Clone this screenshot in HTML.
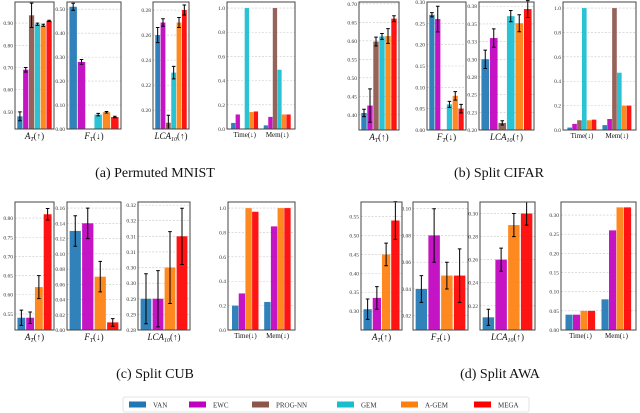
<!DOCTYPE html>
<html><head><meta charset="utf-8"><style>
html,body{margin:0;padding:0;background:#fff;}
svg{display:block;font-family:"Liberation Serif",serif;}
</style></head><body>
<svg id="fig" width="640" height="413" viewBox="0 0 640 413" xmlns="http://www.w3.org/2000/svg"></svg>
<script>
const methods=['VAN','EWC','PROG-NN','GEM','A-GEM','MEGA'];
const colors=['#1f77b4','#bf00bf','#8c564b','#17becf','#ff7f0e','#ff0000'];
const groupLabels=['Time(↓)','Mem(↓)'];
// (a) Permuted MNIST
const aAccVals=[0.48,0.69,0.935,0.895,0.89,0.91];
const aAccErrs=[0.02,0.01,0.055,0.005,0.005,0.003];
const aAccTicks=[0.5,0.6,0.7,0.8,0.9];
const aAccLabels=['0.50','0.60','0.70','0.80','0.90'];
const aFgtVals=[0.51,0.28,0.0,0.06,0.07,0.05];
const aFgtErrs=[0.015,0.01,0,0.005,0.003,0.003];
const aFgtTicks=[0,0.1,0.2,0.3,0.4,0.5];
const aFgtLabels=['0.00','0.10','0.20','0.30','0.40','0.50'];
const aLcaVals=[0.26,0.27,0.19,0.23,0.27,0.28];
const aLcaErrs=[0.006,0.003,0.006,0.005,0.004,0.004];
const aLcaTicks=[0.2,0.22,0.24,0.26,0.28];
const aLcaLabels=['0.20','0.22','0.24','0.26','0.28'];
const aTimeVals=[0.05,0.12,0,1.0,0.14,0.145];
const aMemVals=[0.03,0.10,1.0,0.49,0.12,0.12];
const unitTicks=[0,0.2,0.4,0.6,0.8,1.0];
const unitLabels=['0.0','0.2','0.4','0.6','0.8','1.0'];
// (b) Split CIFAR
const bAccVals=[0.405,0.425,0.598,0.612,0.613,0.66];
const bAccErrs=[0.01,0.045,0.012,0.008,0.02,0.008];
const bAccTicks=[0.4,0.45,0.5,0.55,0.6,0.65,0.7];
const bAccLabels=['0.40','0.45','0.50','0.55','0.60','0.65','0.70'];
const bFgtVals=[0.27,0.26,0.0,0.06,0.08,0.05];
const bFgtErrs=[0.005,0.03,0,0.007,0.01,0.01];
const bFgtTicks=[0,0.05,0.1,0.15,0.2,0.25,0.3];
const bFgtLabels=['0.00','0.05','0.10','0.15','0.20','0.25','0.30'];
const bLcaVals=[0.30,0.33,0.21,0.361,0.351,0.371];
const bLcaErrs=[0.013,0.013,0.003,0.008,0.012,0.012];
const bLcaTicks=[0.2,0.225,0.25,0.275,0.3,0.325,0.35,0.375];
const bLcaLabels=['0.20','0.23','0.25','0.28','0.30','0.33','0.35','0.38'];
const bTimeVals=[0.02,0.05,0.08,1.0,0.08,0.085];
const bMemVals=[0.04,0.09,1.0,0.47,0.2,0.2];
// (c) Split CUB
const cAccVals=[0.54,0.54,0.62,0.81];
const cAccErrs=[0.02,0.015,0.03,0.015];
const cAccTicks=[0.55,0.6,0.65,0.7,0.75,0.8];
const cAccLabels=['0.55','0.60','0.65','0.70','0.75','0.80'];
const cFgtVals=[0.13,0.14,0.07,0.01];
const cFgtErrs=[0.02,0.02,0.02,0.005];
const cFgtTicks=[0,0.02,0.04,0.06,0.08,0.1,0.12,0.14,0.16];
const cFgtLabels=['0.00','0.02','0.04','0.06','0.08','0.10','0.12','0.14','0.16'];
const cLcaVals=[0.29,0.29,0.30,0.31];
const cLcaErrs=[0.008,0.009,0.0115,0.009];
const cLcaTicks=[0.28,0.285,0.29,0.295,0.3,0.305,0.31,0.315,0.32];
const cLcaLabels=['0.28','0.29','0.29','0.30','0.30','0.31','0.31','0.32','0.32'];
const cTimeVals=[0.2,0.3,1.0,0.97];
const cMemVals=[0.23,0.85,1.0,1.0];
// (d) Split AWA
const dAccVals=[0.305,0.335,0.45,0.54];
const dAccErrs=[0.027,0.03,0.03,0.05];
const dAccTicks=[0.3,0.35,0.4,0.45,0.5,0.55];
const dAccLabels=['0.30','0.35','0.40','0.45','0.50','0.55'];
const dFgtVals=[0.04,0.08,0.05,0.05];
const dFgtErrs=[0.01,0.02,0.01,0.02];
const dFgtTicks=[0.02,0.04,0.06,0.08,0.1];
const dFgtLabels=['0.02','0.04','0.06','0.08','0.10'];
const dLcaVals=[0.21,0.26,0.29,0.30];
const dLcaErrs=[0.007,0.01,0.01,0.01];
const dLcaTicks=[0.22,0.24,0.26,0.28,0.3];
const dLcaLabels=['0.22','0.24','0.26','0.28','0.30'];
const dTimeVals=[0.04,0.04,0.05,0.05];
const dMemVals=[0.08,0.26,0.32,0.32];
const dMemTicks=[0,0.05,0.1,0.15,0.2,0.25,0.3];
const dMemLabels=['0.00','0.05','0.10','0.15','0.20','0.25','0.30'];

const NS='http://www.w3.org/2000/svg';
const svg=document.getElementById('fig');
function mk(tag,attrs,parent){const e=document.createElementNS(NS,tag);for(const k in attrs)e.setAttribute(k,attrs[k]);(parent||svg).appendChild(e);return e;}

function panel(name,x0,x1,top,bot,ymin,ymax,ticks,labels,xlabel,vals,errs,mIdx,groups){
  const g=mk('g',{});
  
  
  const ys=v=>bot-(v-ymin)/(ymax-ymin)*(bot-top);
  ticks.forEach((t,i)=>{
    const y=ys(t);
    const gl=mk('line',{x1:x0,x2:x1,y1:y,y2:y,stroke:'#c8c8c8','stroke-width':0.6,'stroke-dasharray':'2,1.5'},g);
    
    
    const tl=mk('text',{x:x0-2,y:y+2,'font-size':5.5,'text-anchor':'end',fill:'#333'},g);
    
    
    tl.textContent=labels[i];
  });
  const w=x1-x0;
  if(!groups){
    const n=vals.length,pad=2,slot=(w-2*pad)/n,bw=slot*0.9;
    vals.forEach((v,i)=>{
      const cx=x0+pad+slot*(i+0.5),y=ys(v);
      if(v>ymin){
        const r=mk('rect',{x:cx-bw/2,y:y,width:bw,height:bot-y,fill:colors[mIdx[i]],'fill-opacity':0.92},g);
        
        
      }
      if(errs[i]>0){
        const e1=ys(v+errs[i]),e2=Math.min(bot,ys(v-errs[i]));
        const el=mk('path',{d:`M${cx},${e1}V${e2}M${cx-1.8},${e1}H${cx+1.8}M${cx-1.8},${e2}H${cx+1.8}`,stroke:'#000','stroke-width':1,fill:'none'},g);
        
        
      }
    });
    const xl=mk('text',{x:(x0+x1)/2,y:bot+10,'font-size':9,'text-anchor':'middle',fill:'#111'},g);
    
    
    const t1=mk('tspan',{'font-style':'italic'},xl);t1.textContent=xlabel[0];
    const t2=mk('tspan',{'font-style':'italic','font-size':6,dy:2},xl);t2.textContent=xlabel[1];
    const t3=mk('tspan',{dy:-2},xl);t3.textContent=xlabel[2];
  } else {
    groups.forEach((gv,gi)=>{
      const n=gv.length,gw=w*0.4,cx0=x0+w*(gi?0.74:0.26)-gw/2,slot=gw/n;
      gv.forEach((v,i)=>{
        const y=ys(v);
        if(v>0){
          const r=mk('rect',{x:cx0+slot*i,y:y,width:slot*0.95,height:bot-y,fill:colors[mIdx[i]],'fill-opacity':0.92},g);
          
          
        }
      });
      const xl=mk('text',{x:cx0+gw/2,y:bot+8,'font-size':7,'text-anchor':'middle',fill:'#111'},g);
      
      
      xl.textContent=groupLabels[gi];
    });
  }
  const fr=mk('rect',{x:x0,y:top,width:w,height:bot-top,fill:'none',stroke:'#444','stroke-width':1},g);
  
  
}
const six=[0,1,2,3,4,5],four=[0,1,4,5];
const LA=['A','T','(↑)'],LF=['F','T','(↓)'],LL=['LCA','10','(↑)'];
// row 1
panel('panel-a-accuracy',15,54,2,129,0.423,0.995,aAccTicks,aAccLabels,LA,aAccVals,aAccErrs,six);
panel('panel-a-forgetting',67,121,2,129,0,0.53,aFgtTicks,aFgtLabels,LF,aFgtVals,aFgtErrs,six);
panel('panel-a-lca',153,189,2,129,0.185,0.2864,aLcaTicks,aLcaLabels,LL,aLcaVals,aLcaErrs,six);
panel('panel-a-cost',227,295,2,129,0,1.05,unitTicks,unitLabels,'',null,null,six,[aTimeVals,aMemVals]);
panel('panel-b-accuracy',359,399,2,130,0.359,0.705,bAccTicks,bAccLabels,LA,bAccVals,bAccErrs,six);
panel('panel-b-forgetting',427,466,2,130,0,0.3,bFgtTicks,bFgtLabels,LF,bFgtVals,bFgtErrs,six);
panel('panel-b-lca',479,534,2,130,0.2,0.381,bLcaTicks,bLcaLabels,LL,bLcaVals,bLcaErrs,six);
panel('panel-b-cost',563,636,2,130,0,1.05,unitTicks,unitLabels,'',null,null,six,[bTimeVals,bMemVals]);
// row 2
panel('panel-c-accuracy',15,54,202,330,0.508,0.842,cAccTicks,cAccLabels,LA,cAccVals,cAccErrs,four);
panel('panel-c-forgetting',67,121,202,330,0,0.168,cFgtTicks,cFgtLabels,LF,cFgtVals,cFgtErrs,four);
panel('panel-c-lca',138,190,202,330,0.28,0.321,cLcaTicks,cLcaLabels,LL,cLcaVals,cLcaErrs,four);
panel('panel-c-cost',228,295,202,330,0,1.05,unitTicks,unitLabels,'',null,null,four,[cTimeVals,cMemVals]);
panel('panel-d-accuracy',361,402,202,330,0.25,0.589,dAccTicks,dAccLabels,LA,dAccVals,dAccErrs,four);
panel('panel-d-forgetting',413,468,202,330,0.0093,0.105,dFgtTicks,dFgtLabels,LF,dFgtVals,dFgtErrs,four);
panel('panel-d-lca',480,535,202,330,0.199,0.31,dLcaTicks,dLcaLabels,LL,dLcaVals,dLcaErrs,four);
panel('panel-d-cost',561,636,202,330,0,0.334,dMemTicks,dMemLabels,'',null,null,four,[dTimeVals,dMemVals]);
// captions
[['(a) Permuted MNIST',155,177],['(b) Split CIFAR',499,177],['(c) Split CUB',155,378],['(d) Split AWA',500,378]].forEach(c=>{
  const t=mk('text',{x:c[1],y:c[2],'font-size':14,'text-anchor':'middle',fill:'#111'});
  
  
  t.textContent=c[0];
});
// legend
const lg=mk('g',{});


const lb=mk('rect',{x:123,y:397,width:406,height:15,rx:2,fill:'#fff',stroke:'#ddd','stroke-width':0.8},lg);


const legX=[129,189,252,337,401,474];
methods.forEach((m,i)=>{
  const s=mk('rect',{x:legX[i],y:401.5,width:17,height:6,fill:colors[i]},lg);
  
  
  const t=mk('text',{x:legX[i]+24,y:407.5,'font-size':7,fill:'#333'},lg);
  
  
  t.textContent=m;
});
</script>
</body></html>
